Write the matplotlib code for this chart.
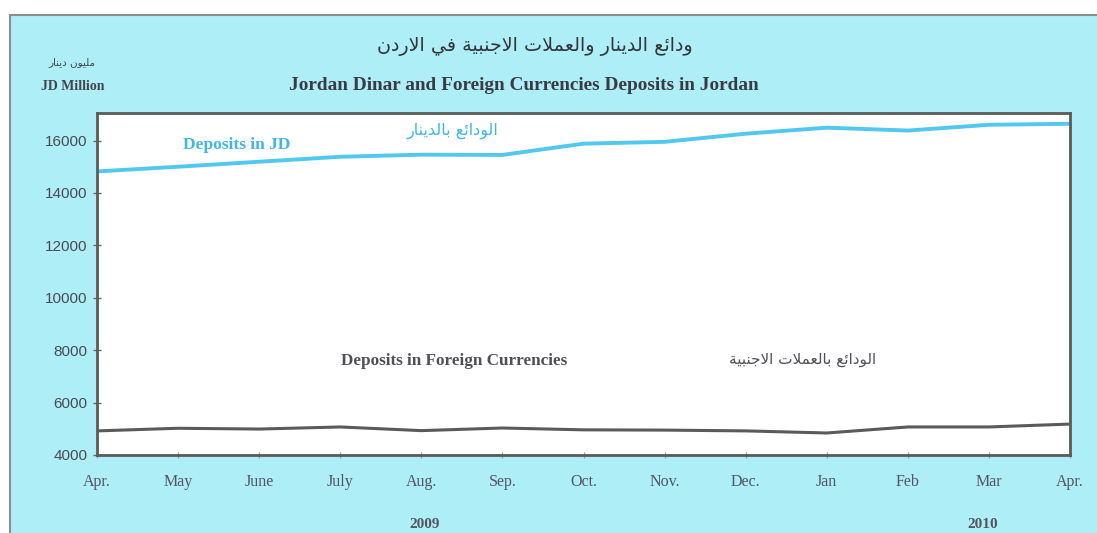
import matplotlib
matplotlib.use("Agg")
import matplotlib.pyplot as plt
from matplotlib.patches import Rectangle

# ---------------- data ----------------
months = ["Apr.", "May", "June", "July", "Aug.", "Sep.", "Oct.", "Nov.", "Dec.",
          "Jan", "Feb", "Mar", "Apr."]
deposits_jd = [14820, 15000, 15190, 15380, 15460, 15450, 15880, 15950, 16260,
               16490, 16380, 16600, 16640]
deposits_fc = [4920, 5020, 4990, 5070, 4930, 5030, 4960, 4950, 4920, 4840,
               5070, 5070, 5180]
yticks = [4000, 6000, 8000, 10000, 12000, 14000, 16000]
years = ["2009", "2010"]

title_ar = "ودائع الدينار والعملات الاجنبية في الاردن"
title_en = "Jordan Dinar and Foreign Currencies Deposits in Jordan"
unit_ar = "مليون دينار"
unit_en = "JD Million"
jd_label_en = "Deposits in JD"
jd_label_ar = "الودائع بالدينار"
fc_label_en = "Deposits in Foreign Currencies"
fc_label_ar = "الودائع بالعملات الاجنبية"

# ------------- minimal Arabic shaping -------------
FORMS = {
    "ا": (0xFE8D, 0xFE8E), "د": (0xFEA9, 0xFEAA), "ر": (0xFEAD, 0xFEAE),
    "و": (0xFEED, 0xFEEE), "ة": (0xFE93, 0xFE94),
    "ب": (0xFE8F, 0xFE90, 0xFE91, 0xFE92), "ت": (0xFE95, 0xFE96, 0xFE97, 0xFE98),
    "ج": (0xFE9D, 0xFE9E, 0xFE9F, 0xFEA0), "ع": (0xFEC9, 0xFECA, 0xFECB, 0xFECC),
    "ف": (0xFED1, 0xFED2, 0xFED3, 0xFED4), "ل": (0xFEDD, 0xFEDE, 0xFEDF, 0xFEE0),
    "م": (0xFEE1, 0xFEE2, 0xFEE3, 0xFEE4), "ن": (0xFEE5, 0xFEE6, 0xFEE7, 0xFEE8),
    "ي": (0xFEF1, 0xFEF2, 0xFEF3, 0xFEF4), "ئ": (0xFE89, 0xFE8A, 0xFE8B, 0xFE8C),
}


def shape(text):
    out = []
    i, n = 0, len(text)
    while i < n:
        c = text[i]
        if c not in FORMS:
            out.append(c)
            i += 1
            continue
        prev = text[i - 1] if i > 0 else ""
        prev_j = prev in FORMS and len(FORMS[prev]) == 4
        if c == "ل" and i + 1 < n and text[i + 1] == "ا":
            out.append(chr(0xFEFC if prev_j else 0xFEFB))
            i += 2
            continue
        nxt = text[i + 1] if i + 1 < n else ""
        next_j = len(FORMS[c]) == 4 and nxt in FORMS
        f = FORMS[c]
        if prev_j and next_j:
            g = f[3]
        elif prev_j:
            g = f[1]
        elif next_j:
            g = f[2]
        else:
            g = f[0]
        out.append(chr(g))
        i += 1
    return "".join(out)[::-1]


# ---------------- figure ----------------
W, H = 1097, 533
fig = plt.figure(figsize=(W / 100, H / 100), dpi=100)
fig.patch.set_facecolor("white")

panel = Rectangle((10 / W, -0.2), 1.2, 1.2 - 15 / H, transform=fig.transFigure,
                  facecolor="#aeeef6", edgecolor="#8a8f94", linewidth=1.5,
                  zorder=-5)
fig.patches.append(panel)

left, right, top, bottom = 97, 1070, 113, 455
ax = fig.add_axes([left / W, 1 - bottom / H, (right - left) / W, (bottom - top) / H])
ax.set_zorder(2)
ax.set_facecolor("white")

x = list(range(len(months)))
ax.plot(x, deposits_jd, color="#52c8ee", linewidth=2.8, solid_joinstyle="round")
ax.plot(x, deposits_fc, color="#5a5a5a", linewidth=2.2, solid_joinstyle="round")

ax.set_xlim(0, len(months) - 1)
ax.set_ylim(4000, 17050)
ax.set_yticks(yticks)
ax.set_yticklabels([str(v) for v in yticks], family="Liberation Sans",
                   fontsize=11, color="#4a4a55")
ax.set_xticks(x)
ax.set_xticklabels(months, family="Liberation Serif", fontsize=11.5,
                   color="#555560")
ax.tick_params(axis="y", direction="inout", length=6, width=1, color="#666",
               pad=4)
ax.tick_params(axis="x", direction="inout", length=5, width=0.8, color="#999",
               pad=11)
for s in ax.spines.values():
    s.set_color("#5a5a5a")
    s.set_linewidth(2)

# series labels
ax.text(1.72, 15810, jd_label_en, family="Liberation Serif", fontweight="bold",
        fontsize=12.5, color="#3fb6e4", ha="center", va="center")
ax.text(4.38, 16370, shape(jd_label_ar), family="DejaVu Sans", fontsize=11.5,
        color="#3fb6e4", ha="center", va="center")
ax.text(4.41, 7590, fc_label_en, family="Liberation Serif", fontweight="bold",
        fontsize=12.3, color="#4f4f58", ha="center", va="center")
ax.text(8.70, 7630, shape(fc_label_ar), family="DejaVu Sans", fontsize=11,
        color="#4f4f58", ha="center", va="center")

# titles
fig.text(535 / W, 1 - 47 / H, shape(title_ar), family="DejaVu Sans",
         fontsize=13.8, color="#333338", ha="center", va="center")
fig.text(524 / W, 1 - 86 / H, title_en, family="Liberation Serif",
         fontweight="bold", fontsize=13.9, color="#3a3a44", ha="center",
         va="center")
fig.text(72 / W, 1 - 62 / H, shape(unit_ar), family="DejaVu Sans",
         fontsize=7.5, color="#44444c", ha="center", va="center")
fig.text(73 / W, 1 - 86 / H, unit_en, family="Liberation Serif",
         fontweight="bold", fontsize=10, color="#44444c", ha="center",
         va="center")

# years
for yr, xp in zip(years, [425, 983]):
    fig.text(xp / W, 1 - 525 / H, yr, family="Liberation Serif",
             fontweight="bold", fontsize=11, color="#555560", ha="center",
             va="center")

fig.savefig("out.png", dpi=100, facecolor=fig.get_facecolor())
